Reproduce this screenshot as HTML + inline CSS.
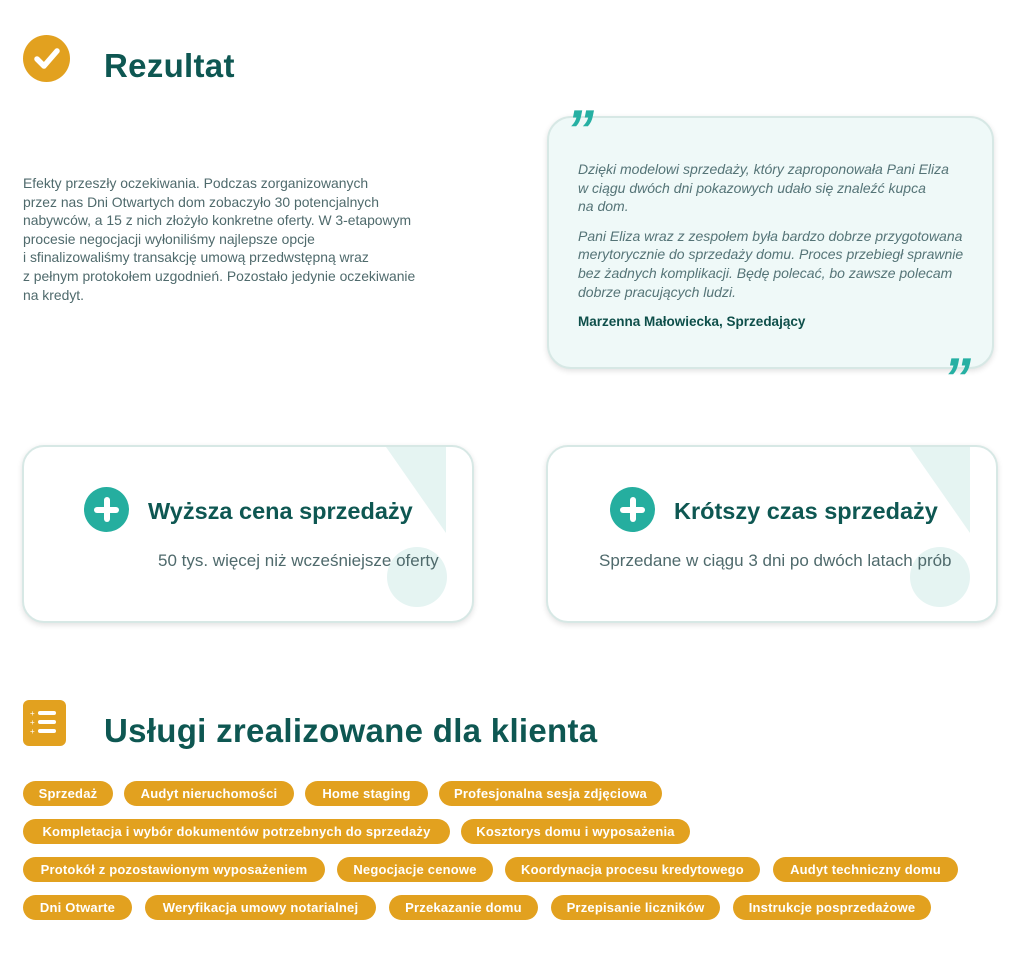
<!DOCTYPE html>
<html><head><meta charset="utf-8">
<style>
*{margin:0;padding:0;box-sizing:border-box}
body{width:1024px;height:976px;background:#fff;position:relative;font-family:"Liberation Sans",sans-serif;overflow:hidden}
.a{position:absolute}
h1{position:absolute;color:#0e5752;font-weight:bold;font-size:33px;letter-spacing:0.3px;white-space:nowrap}
.body{left:23px;top:174px;font-size:13.9px;line-height:18.6px;color:#4f6a6c;white-space:nowrap}
.quote{left:547px;top:116px;width:447px;height:253px;border-radius:24px;background:#eff9f8;border:2px solid #d7e8e5;box-shadow:0 2px 6px rgba(0,0,0,0.12)}
.qt{left:578px;top:160px;font-style:italic;font-size:14px;line-height:18.6px;color:#557477;white-space:nowrap}
.qt p{margin-bottom:11px}
.qt b{font-style:normal;color:#0e4f4a;font-size:13.5px}
.qm{color:#26b0a3;font-family:"Liberation Sans",sans-serif;font-weight:bold;font-size:56px;line-height:1;font-style:italic}
.card{width:452px;height:178px;top:445px;border-radius:22px;border:2px solid #d7e8e5;box-shadow:0 2px 6px rgba(0,0,0,0.12);background:#fff;overflow:hidden}
.plus{width:45px;height:45px;border-radius:50%;background:#25ae9f}
.plus:before{content:"";position:absolute;left:20px;top:10px;width:6px;height:25px;background:#fff;border-radius:3px}
.plus:after{content:"";position:absolute;left:10px;top:20px;width:25px;height:6px;background:#fff;border-radius:3px}
.ct{font-weight:bold;font-size:23.5px;color:#0e5752;white-space:nowrap}
.cs{font-size:17px;color:#4f6a6c;white-space:nowrap}
.circ{width:60px;height:60px;border-radius:50%;background:#e5f4f2}
.pill{position:absolute;height:25px;border-radius:13px;background:#e2a11f;color:#fff;font-weight:bold;font-size:13px;display:flex;align-items:center;justify-content:center;white-space:nowrap;letter-spacing:0.2px}
</style></head><body>
<div class="a" style="left:23px;top:35px;width:47px;height:47px;border-radius:50%;background:#e2a11f"></div>
<svg class="a" style="left:23px;top:35px" width="47" height="47"><path d="M14 24 L21 31 L34 16" stroke="#fff" stroke-width="5.5" fill="none" stroke-linecap="round" stroke-linejoin="round"/></svg>
<h1 style="left:104px;top:47px">Rezultat</h1>
<div class="a body">Efekty przeszły oczekiwania. Podczas zorganizowanych<br>przez nas Dni Otwartych dom zobaczyło 30 potencjalnych<br>nabywców, a 15 z nich złożyło konkretne oferty. W 3-etapowym<br>procesie negocjacji wyłoniliśmy najlepsze opcje<br>i sfinalizowaliśmy transakcję umową przedwstępną wraz<br>z pełnym protokołem uzgodnień. Pozostało jedynie oczekiwanie<br>na kredyt.</div>

<div class="a quote"></div>
<div class="a qm" style="left:566px;top:102px">”</div>
<div class="a qm" style="left:943px;top:350px">”</div>
<div class="a qt"><p>Dzięki modelowi sprzedaży, który zaproponowała Pani Eliza<br>w ciągu dwóch dni pokazowych udało się znaleźć kupca<br>na dom.</p><p>Pani Eliza wraz z zespołem była bardzo dobrze przygotowana<br>merytorycznie do sprzedaży domu. Proces przebiegł sprawnie<br>bez żadnych komplikacji. Będę polecać, bo zawsze polecam<br>dobrze pracujących ludzi.</p><b>Marzenna Małowiecka, Sprzedający</b></div>

<div class="a card" style="left:22px">
 <svg class="a" style="left:362px;top:0" width="60" height="90"><polygon points="0,0 60,0 60,86" fill="#e5f4f2"/></svg>
 <div class="a circ" style="left:363px;top:100px"></div>
 <div class="a plus" style="left:60px;top:40px"></div>
 <div class="a ct" style="left:124px;top:51px">Wyższa cena sprzedaży</div>
 <div class="a cs" style="left:134px;top:104px">50 tys. więcej niż wcześniejsze oferty</div>
</div>
<div class="a card" style="left:546px">
 <svg class="a" style="left:362px;top:0" width="60" height="90"><polygon points="0,0 60,0 60,86" fill="#e5f4f2"/></svg>
 <div class="a circ" style="left:362px;top:100px"></div>
 <div class="a plus" style="left:62px;top:40px"></div>
 <div class="a ct" style="left:126px;top:51px">Krótszy czas sprzedaży</div>
 <div class="a cs" style="left:51px;top:104px">Sprzedane w ciągu 3 dni po dwóch latach prób</div>
</div>

<div class="a" style="left:23px;top:700px;width:43px;height:46px;border-radius:6px;background:#e2a11f"></div>
<svg class="a" style="left:23px;top:700px" width="43" height="46"><g fill="#fff"><rect x="15" y="11" width="18" height="4" rx="2"/><rect x="15" y="20" width="18" height="4" rx="2"/><rect x="15" y="29" width="18" height="4" rx="2"/><text x="7" y="16" font-size="8" font-family="Liberation Sans">+</text><text x="7" y="25" font-size="8" font-family="Liberation Sans">+</text><text x="7" y="34" font-size="8" font-family="Liberation Sans">+</text></g></svg>
<h1 style="left:104px;top:712px">Usługi zrealizowane dla klienta</h1>

<div class="pill" style="left:23px;top:781px;width:90px">Sprzedaż</div>
<div class="pill" style="left:124px;top:781px;width:170px">Audyt nieruchomości</div>
<div class="pill" style="left:305px;top:781px;width:123px">Home staging</div>
<div class="pill" style="left:439px;top:781px;width:223px">Profesjonalna sesja zdjęciowa</div>
<div class="pill" style="left:23px;top:819px;width:427px">Kompletacja i wybór dokumentów potrzebnych do sprzedaży</div>
<div class="pill" style="left:461px;top:819px;width:229px">Kosztorys domu i wyposażenia</div>
<div class="pill" style="left:23px;top:857px;width:302px">Protokół z pozostawionym wyposażeniem</div>
<div class="pill" style="left:337px;top:857px;width:156px">Negocjacje cenowe</div>
<div class="pill" style="left:505px;top:857px;width:255px">Koordynacja procesu kredytowego</div>
<div class="pill" style="left:773px;top:857px;width:185px">Audyt techniczny domu</div>
<div class="pill" style="left:23px;top:895px;width:109px">Dni Otwarte</div>
<div class="pill" style="left:145px;top:895px;width:231px">Weryfikacja umowy notarialnej</div>
<div class="pill" style="left:389px;top:895px;width:149px">Przekazanie domu</div>
<div class="pill" style="left:551px;top:895px;width:169px">Przepisanie liczników</div>
<div class="pill" style="left:733px;top:895px;width:198px">Instrukcje posprzedażowe</div>
</body></html>
